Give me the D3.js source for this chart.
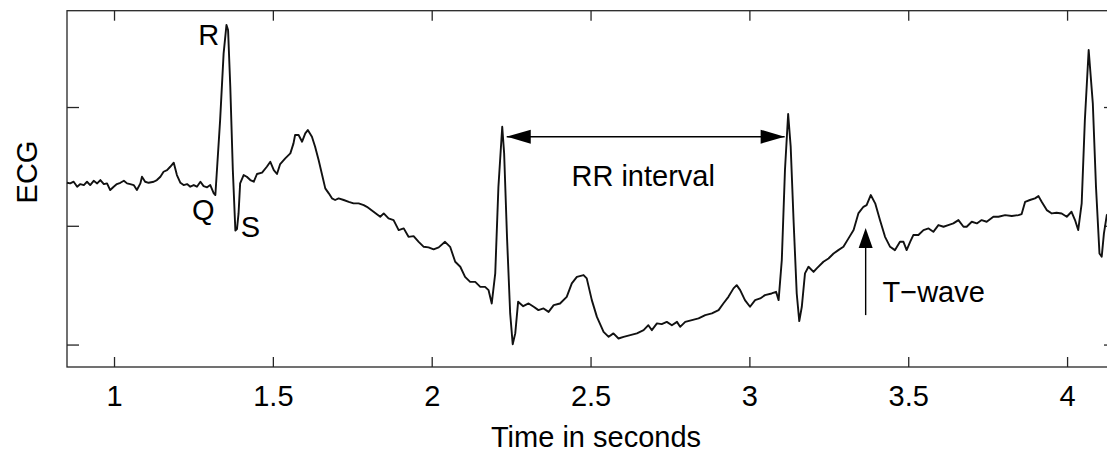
<!DOCTYPE html>
<html>
<head>
<meta charset="utf-8">
<script src="https://cdn.jsdelivr.net/npm/d3@7"></script>
<style>
  body { margin: 0; background: #fff; }
  text { font-family: "Liberation Sans", Arial, sans-serif; fill: #000; }
</style>
</head>
<body>
<svg id="ecg-chart" width="1107" height="452"></svg>
<script>
// time stamps (s) and ECG amplitude
const timeSec = [
  0.852, 0.862, 0.873, 0.884, 0.894, 0.905, 0.915, 0.925, 0.936, 0.947,
  0.957, 0.968, 0.978, 0.988, 0.999, 1.009, 1.020, 1.031, 1.041, 1.051,
  1.062, 1.072, 1.083, 1.088, 1.098, 1.109, 1.125, 1.135, 1.146, 1.156,
  1.167, 1.177, 1.188, 1.198, 1.209, 1.219, 1.230, 1.240, 1.251, 1.261,
  1.272, 1.282, 1.293, 1.303, 1.314, 1.319, 1.334, 1.345, 1.354, 1.359,
  1.366, 1.374, 1.382, 1.387, 1.392, 1.397, 1.408, 1.418, 1.429, 1.440,
  1.450, 1.466, 1.481, 1.492, 1.503, 1.513, 1.523, 1.539, 1.555, 1.565,
  1.570, 1.581, 1.592, 1.602, 1.610, 1.623, 1.633, 1.644, 1.654, 1.665,
  1.676, 1.686, 1.696, 1.707, 1.723, 1.739, 1.754, 1.770, 1.786, 1.796,
  1.817, 1.838, 1.849, 1.864, 1.880, 1.896, 1.912, 1.927, 1.943, 1.959,
  1.975, 1.990, 2.006, 2.022, 2.042, 2.058, 2.074, 2.090, 2.105, 2.121,
  2.137, 2.153, 2.168, 2.179, 2.189, 2.200, 2.210, 2.222, 2.228, 2.237,
  2.247, 2.255, 2.263, 2.272, 2.288, 2.305, 2.321, 2.336, 2.352, 2.368,
  2.384, 2.404, 2.425, 2.441, 2.457, 2.478, 2.488, 2.504, 2.520, 2.541,
  2.557, 2.572, 2.588, 2.604, 2.625, 2.646, 2.667, 2.682, 2.693, 2.709,
  2.724, 2.740, 2.756, 2.772, 2.782, 2.798, 2.819, 2.840, 2.861, 2.882,
  2.903, 2.918, 2.934, 2.950, 2.960, 2.971, 2.986, 3.002, 3.018, 3.034,
  3.049, 3.070, 3.084, 3.092, 3.102, 3.112, 3.122, 3.130, 3.139, 3.149,
  3.157, 3.165, 3.175, 3.186, 3.202, 3.212, 3.233, 3.249, 3.265, 3.280,
  3.296, 3.312, 3.328, 3.343, 3.359, 3.369, 3.382, 3.396, 3.411, 3.427,
  3.443, 3.458, 3.474, 3.485, 3.495, 3.506, 3.516, 3.532, 3.548, 3.564,
  3.579, 3.595, 3.611, 3.626, 3.642, 3.658, 3.674, 3.684, 3.700, 3.716,
  3.731, 3.747, 3.768, 3.784, 3.805, 3.826, 3.847, 3.857, 3.868, 3.883,
  3.899, 3.910, 3.920, 3.936, 3.952, 3.967, 3.983, 3.999, 4.014, 4.025,
  4.035, 4.046, 4.056, 4.068, 4.081, 4.091, 4.102, 4.109, 4.116, 4.125,
  4.140
];
const ecgValue = [
  0.362, 0.357, 0.371, 0.329, 0.351, 0.343, 0.371, 0.343, 0.379, 0.357,
  0.385, 0.351, 0.357, 0.301, 0.329, 0.351, 0.362, 0.379, 0.357, 0.351,
  0.343, 0.301, 0.357, 0.413, 0.371, 0.362, 0.371, 0.385, 0.413, 0.455,
  0.469, 0.497, 0.531, 0.427, 0.362, 0.343, 0.351, 0.329, 0.343, 0.329,
  0.371, 0.334, 0.324, 0.343, 0.273, 0.259, 0.890, 1.452, 1.691, 1.649,
  1.171, 0.469, -0.040, -0.028, 0.104, 0.357, 0.427, 0.413, 0.385, 0.371,
  0.436, 0.447, 0.497, 0.539, 0.469, 0.436, 0.520, 0.568, 0.610, 0.694,
  0.764, 0.764, 0.708, 0.778, 0.806, 0.750, 0.666, 0.553, 0.441, 0.315,
  0.273, 0.231, 0.217, 0.231, 0.217, 0.202, 0.189, 0.189, 0.174, 0.160,
  0.118, 0.076, 0.104, 0.062, 0.048, -0.036, -0.022, -0.093, -0.087, -0.135,
  -0.177, -0.182, -0.199, -0.182, -0.135, -0.177, -0.303, -0.345, -0.430, -0.472,
  -0.472, -0.514, -0.514, -0.542, -0.654, -0.401, 0.329, 0.834, 0.610, -0.093,
  -0.738, -0.997, -0.906, -0.640, -0.677, -0.654, -0.682, -0.710, -0.696, -0.725,
  -0.668, -0.654, -0.598, -0.485, -0.430, -0.415, -0.443, -0.626, -0.767, -0.893,
  -0.935, -0.906, -0.949, -0.935, -0.921, -0.906, -0.879, -0.837, -0.879, -0.822,
  -0.828, -0.809, -0.837, -0.809, -0.851, -0.809, -0.794, -0.780, -0.752, -0.738,
  -0.710, -0.654, -0.598, -0.527, -0.500, -0.542, -0.626, -0.682, -0.626, -0.612,
  -0.584, -0.570, -0.556, -0.626, -0.289, 0.469, 0.941, 0.666, 0.048, -0.570,
  -0.803, -0.682, -0.401, -0.345, -0.388, -0.359, -0.303, -0.275, -0.233, -0.205,
  -0.177, -0.106, -0.036, 0.104, 0.160, 0.174, 0.259, 0.189, 0.048, -0.093,
  -0.177, -0.205, -0.135, -0.135, -0.205, -0.135, -0.078, -0.078, -0.036, -0.022,
  -0.051, 0.006, -0.008, 0.006, 0.020, 0.048, -0.008, -0.008, 0.034, 0.020,
  0.048, 0.034, 0.076, 0.076, 0.090, 0.082, 0.090, 0.099, 0.202, 0.217,
  0.231, 0.250, 0.202, 0.132, 0.104, 0.110, 0.104, 0.076, 0.118, 0.048,
  -0.036, 0.189, 0.890, 1.480, 1.031, 0.329, -0.233, -0.261, -0.064, 0.090,
  0.115
];
const xTicks = [1, 1.5, 2, 2.5, 3, 3.5, 4];
const yTicks = [-1, 0, 1];
const rPeaks = [2.222, 3.122]; // the two beats joined by the RR arrow

const ecg = timeSec.map((t, i) => ({ t: t, v: ecgValue[i] }));

const plotLeft = 67, plotTop = 10.7, plotRight = 1116, plotBottom = 367;
const fontSize = 29;

var svg = d3.select("#ecg-chart");

var x = d3.scaleLinear().domain([0.852, 4.154]).range([plotLeft, plotRight]);
var y = d3.scaleLinear().domain([-1.189, 1.811]).range([plotBottom, plotTop]);

// axes: ticks point inward, no labels except bottom
svg.append("g")
  .attr("transform", `translate(0,${plotBottom})`)
  .call(d3.axisBottom(x).tickValues(xTicks).tickSizeInner(-10).tickSizeOuter(0)
    .tickPadding(18.5).tickFormat(d3.format("")))
  .call((g) => g.select(".domain").remove())
  .call((g) => g.selectAll("line").attr("stroke", "#262626").attr("stroke-width", 1.3))
  .call((g) => g.selectAll("text")
    .style("font-family", '"Liberation Sans", Arial, sans-serif')
    .style("font-size", fontSize + "px").attr("fill", "#000"));

svg.append("g")
  .attr("transform", `translate(0,${plotTop})`)
  .call(d3.axisTop(x).tickValues(xTicks).tickSizeInner(-10).tickSizeOuter(0).tickFormat(""))
  .call((g) => g.select(".domain").remove())
  .call((g) => g.selectAll("line").attr("stroke", "#262626").attr("stroke-width", 1.3));

svg.append("g")
  .attr("transform", `translate(${plotLeft},0)`)
  .call(d3.axisLeft(y).tickValues(yTicks).tickSizeInner(-12).tickSizeOuter(0).tickFormat(""))
  .call((g) => g.select(".domain").remove())
  .call((g) => g.selectAll("line").attr("stroke", "#262626").attr("stroke-width", 1.3));

svg.append("g")
  .attr("transform", `translate(${plotRight},0)`)
  .call(d3.axisRight(y).tickValues(yTicks).tickSizeInner(-12).tickSizeOuter(0).tickFormat(""))
  .call((g) => g.select(".domain").remove())
  .call((g) => g.selectAll("line").attr("stroke", "#262626").attr("stroke-width", 1.3));

svg.append("rect")
  .attr("x", plotLeft)
  .attr("y", plotTop)
  .attr("width", plotRight - plotLeft)
  .attr("height", plotBottom - plotTop)
  .attr("fill", "none")
  .attr("stroke", "#262626")
  .attr("stroke-width", 1.3);

// the trace
const line = d3.line().x((d) => x(d.t)).y((d) => y(d.v));
svg.append("path")
  .datum(ecg)
  .attr("d", line)
  .attr("fill", "none")
  .attr("stroke", "#111")
  .attr("stroke-width", 1.9)
  .attr("stroke-linejoin", "round");

// axis titles
svg.append("text")
  .attr("x", 596)
  .attr("y", 447)
  .attr("text-anchor", "middle")
  .style("font-size", fontSize + "px")
  .text("Time in seconds");

svg.append("text")
  .attr("transform", "translate(37,172) rotate(-90)")
  .attr("text-anchor", "middle")
  .style("font-size", fontSize + "px")
  .text("ECG");

// wave labels
const addLabel = (txt, t, v, anchor = "middle") => {
  svg.append("text")
    .attr("x", x(t))
    .attr("y", y(v))
    .attr("text-anchor", anchor)
    .style("font-size", fontSize + "px")
    .text(txt);
};
addLabel("R", 1.298, 1.521);
addLabel("Q", 1.281, 0.048);
addLabel("S", 1.429, -0.095);
addLabel("RR interval", 2.440, 0.335, "start");
addLabel("T\u2212wave", 3.419, -0.640, "start");

// arrowhead: tip at (px,py), pointing in direction (dx,dy)
const arrowHead = (px, py, dx, dy, len = 24, half = 7) => {
  const nx = -dy, ny = dx;
  const bx = px - dx * len, by = py - dy * len;
  const p = d3.path();
  p.moveTo(px, py);
  p.lineTo(bx + nx * half, by + ny * half);
  p.lineTo(bx - nx * half, by - ny * half);
  p.closePath();
  svg.append("path").attr("d", p.toString()).attr("fill", "#000");
};

// RR interval arrow between the two R peaks
const rrY = y(0.75);
const rrX0 = x(rPeaks[0]) + 4.5, rrX1 = x(rPeaks[1]) - 3.5;
svg.append("line")
  .attr("x1", rrX0).attr("x2", rrX1)
  .attr("y1", rrY).attr("y2", rrY)
  .attr("stroke", "#000").attr("stroke-width", 1.4);
arrowHead(rrX0, rrY, -1, 0);
arrowHead(rrX1, rrY, 1, 0);

// T-wave arrow
const tX = x(3.366);
svg.append("line")
  .attr("x1", tX).attr("x2", tX)
  .attr("y1", y(-0.752)).attr("y2", y(-0.019) + 10)
  .attr("stroke", "#000").attr("stroke-width", 1.4);
arrowHead(tX, y(-0.019), 0, -1, 20, 7);
</script>
</body>
</html>
